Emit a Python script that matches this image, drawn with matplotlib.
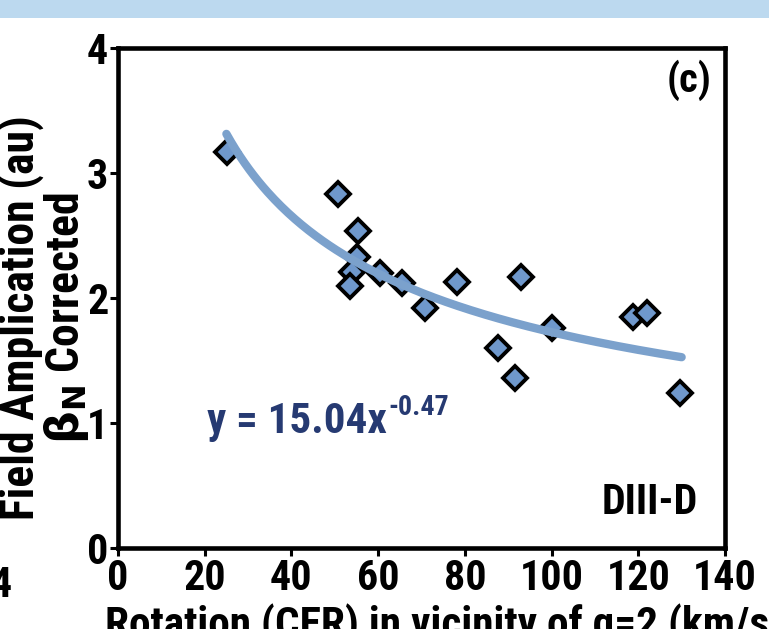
import matplotlib
matplotlib.use("Agg")
import matplotlib.pyplot as plt
import numpy as np
from matplotlib import font_manager as fm
from matplotlib.patches import Rectangle

# Data
rotation = [25.1, 50.8, 55.4, 55.1, 54.0, 53.5, 60.4, 65.4, 70.7, 78.3,
            92.9, 100.0, 87.6, 91.5, 118.8, 122.0, 129.6]
amplification = [3.17, 2.83, 2.54, 2.33, 2.21, 2.10, 2.20, 2.12, 1.92, 2.13,
                 2.17, 1.76, 1.60, 1.36, 1.85, 1.88, 1.24]
fit_coef = 15.04
fit_exp = -0.47
fit_range = [25.0, 130.0]
xticks = [0, 20, 40, 60, 80, 100, 120, 140]
yticks = [0, 1, 2, 3, 4]

# pick a condensed bold font if one is available
candidates = ['Liberation Sans Narrow', 'Arial Narrow', 'Archivo Narrow', 'Roboto Condensed',
              'PT Sans Narrow', 'Fira Sans Condensed', 'IBM Plex Sans Condensed',
              'Sofia Sans Condensed', 'Encode Sans Condensed', 'Asap Condensed']
avail = {}
for f in fm.fontManager.ttflist:
    w = f.weight if isinstance(f.weight, int) else 700 if f.weight == 'bold' else 400
    if f.style == 'normal' and w >= 600:
        avail.setdefault(f.name, True)
chosen = next((c for c in candidates if c in avail), 'Liberation Sans')
FONT = [chosen, 'Liberation Sans', 'DejaVu Sans']
plt.rcParams['font.family'] = FONT
plt.rcParams['font.weight'] = 'bold'
plt.rcParams['mathtext.fontset'] = 'dejavusans'

W, H = 769, 629
fig = plt.figure(figsize=(7.69, 6.29), dpi=100)
ax = fig.add_axes([118 / W, 1 - 548 / H, (725 - 118) / W, (548 - 48) / H])
renderer = fig.canvas.get_renderer()


def fit(t, target, dim='w'):
    bb = t.get_window_extent(renderer)
    cur = bb.width if dim == 'w' else bb.height
    t.set_fontsize(t.get_fontsize() * target / cur)
    return t


# top band
fig.patches.append(Rectangle((0, 1 - 18 / H), 1, 18 / H, transform=fig.transFigure,
                             facecolor='#bcd9ef', edgecolor='none', zorder=0))

ax.plot(rotation, amplification, linestyle='none', marker='D', markersize=12,
        markerfacecolor='#6f98cc', markeredgecolor='black', markeredgewidth=2.8, zorder=3)

xf = np.linspace(fit_range[0], fit_range[1], 200)
yf = fit_coef * xf ** fit_exp
ax.plot(xf, yf, color='#7ba1cc', linewidth=6, solid_capstyle='round', zorder=4)

ax.set_xlim(0, 140)
ax.set_ylim(0, 4)
ax.set_xticks(xticks)
ax.set_yticks(yticks)

probe = fig.text(0, 0, '140', fontsize=30, fontweight='bold')
fit(probe, 64)
tick_size = probe.get_fontsize()
probe.remove()

ax.tick_params(axis='both', direction='out', length=6, width=2.2, labelsize=tick_size, pad=1)
for lab in ax.get_xticklabels() + ax.get_yticklabels():
    lab.set_fontweight('bold')
for sp in ax.spines.values():
    sp.set_linewidth(3.3)

# y label (two lines)
yl = fig.text(44 / W, 1 - 318 / H, 'Field Amplication (au)\n' + r'$\mathrm{\beta_N}$ Corrected',
              rotation=90, ha='center', va='center', multialignment='center',
              fontsize=28, fontweight='bold', linespacing=0.97)
l1 = fig.text(0, 0, 'Field Amplication (au)', fontsize=28, fontweight='bold')
fit(l1, 405)
yl.set_fontsize(l1.get_fontsize())
l1.remove()

# x label (cut off at the bottom as in the source slide)
xl = fig.text(105 / W, 1 - 604 / H, 'Rotation (CER) in vicinity of q=2 (km/s)',
              ha='left', va='top', fontsize=28, fontweight='bold')
fit(xl, 680)

tc = ax.text(0.978, 0.935, '(c)', transform=ax.transAxes, ha='right', va='center',
             fontsize=28, fontweight='bold')
fit(tc, 45)
td = ax.text(0.955, 0.09, 'DIII-D', transform=ax.transAxes, ha='right', va='center',
             fontsize=28, fontweight='bold')
fit(td, 97)

# equation with superscript
eq = fig.text(207 / W, 1 - 433 / H, 'y = 15.04x', ha='left', va='baseline',
              fontsize=30, fontweight='bold', color='#263a72')
fit(eq, 180)
eb = eq.get_window_extent(renderer)
sup = fig.text((eb.x1 + 1) / W, 1 - 415 / H, '-0.47', ha='left', va='baseline',
               fontsize=18, fontweight='bold', color='#263a72')
fit(sup, 61)

four = fig.text(-0.012, 1 - 597 / H, '4', fontsize=tick_size, fontweight='bold',
                ha='left', va='baseline')

fig.savefig('out.png', dpi=100)
